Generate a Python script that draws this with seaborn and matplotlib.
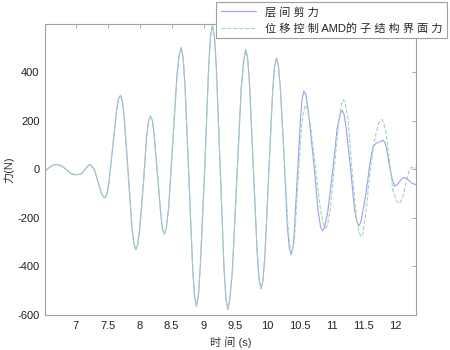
import numpy as np
import pandas as pd
import matplotlib
matplotlib.use("Agg")
import matplotlib.pyplot as plt
import seaborn as sns

# time (s) and force (N)
t_shear = [6.52, 6.56, 6.61, 6.65, 6.70, 6.78, 6.86, 6.93, 6.98, 7.06, 7.10, 7.145, 7.19, 7.23,
           7.29, 7.345, 7.40, 7.43, 7.46, 7.49, 7.52, 7.58, 7.64, 7.67, 7.70, 7.73, 7.76, 7.82,
           7.88, 7.91, 7.94, 7.97, 8.00, 8.06, 8.11, 8.14, 8.17, 8.20, 8.225, 8.28, 8.335, 8.36,
           8.39, 8.42, 8.455, 8.52, 8.585, 8.62, 8.65, 8.68, 8.71, 8.77, 8.83, 8.86, 8.89, 8.92,
           8.95, 9.02, 9.08, 9.11, 9.14, 9.17, 9.20, 9.26, 9.32, 9.35, 9.38, 9.41, 9.45, 9.52,
           9.59, 9.63, 9.66, 9.69, 9.72, 9.78, 9.84, 9.87, 9.90, 9.93, 9.96, 10.02, 10.08, 10.11,
           10.14, 10.17, 10.20, 10.26, 10.31, 10.34, 10.37, 10.40, 10.42, 10.47, 10.52, 10.54,
           10.57, 10.60, 10.64, 10.72, 10.79, 10.83, 10.86, 10.89, 10.94, 11.02, 11.09, 11.14,
           11.17, 11.20, 11.23, 11.30, 11.36, 11.40, 11.43, 11.46, 11.48, 11.54, 11.60, 11.65,
           11.70, 11.75, 11.78, 11.81, 11.84, 11.86, 11.91, 11.95, 11.99, 12.04, 12.09, 12.14,
           12.19, 12.25, 12.33]
f_shear = [-8, 2, 12, 18, 20, 14, -2, -18, -22, -21, -17, 0, 14, 20,
           0, -48, -97, -112, -117, -101, -55, 94, 243, 289, 305, 281, 212, -13,
           -238, -307, -331, -310, -251, -56, 139, 198, 219, 201, 148, -24, -196, -249,
           -267, -238, -155, 117, 389, 472, 501, 461, 346, -32, -409, -524, -564, -520,
           -395, 15, 424, 549, 593, 548, 422, 8, -407, -533, -578, -537, -422, -43,
           337, 452, 493, 456, 349, 0, -349, -456, -493, -457, -354, -18, 319, 422,
           458, 427, 340, 53, -234, -321, -352, -318, -253, -15, 224, 287,
           323, 308, 239, 36, -168, -237, -252, -241, -180, -6, 169, 230,
           243, 224, 172, 4, -164, -216, -233, -218, -190, -100, 20, 93,
           108, 112, 116, 120, 108, 90, 11, -40, -70, -60, -42, -33,
           -40, -56, -64]

t_amd = [6.52, 6.56, 6.61, 6.65, 6.70, 6.78, 6.86, 6.93, 6.98, 7.06, 7.10, 7.145, 7.19, 7.23,
         7.29, 7.345, 7.40, 7.43, 7.46, 7.49, 7.52, 7.58, 7.64, 7.67, 7.70, 7.73, 7.76, 7.82,
         7.88, 7.91, 7.94, 7.97, 8.00, 8.06, 8.11, 8.14, 8.17, 8.20, 8.225, 8.28, 8.335, 8.36,
         8.39, 8.42, 8.455, 8.52, 8.585, 8.62, 8.65, 8.68, 8.71, 8.77, 8.83, 8.86, 8.89, 8.92,
         8.95, 9.02, 9.08, 9.11, 9.14, 9.17, 9.20, 9.26, 9.32, 9.35, 9.38, 9.41, 9.45, 9.52,
         9.59, 9.63, 9.66, 9.69, 9.72, 9.78, 9.84, 9.87, 9.90, 9.93, 9.96, 10.02, 10.08, 10.11,
         10.14, 10.17, 10.20, 10.26, 10.32, 10.35, 10.38, 10.41, 10.43, 10.48, 10.53, 10.56,
         10.59, 10.62, 10.67, 10.75, 10.83, 10.88, 10.91, 10.94, 10.98, 11.05, 11.12, 11.16,
         11.19, 11.22, 11.26, 11.32, 11.39, 11.43, 11.46, 11.49, 11.53, 11.60, 11.66, 11.70,
         11.74, 11.76, 11.79, 11.82, 11.85, 11.91, 11.96, 12.01, 12.03, 12.06, 12.09, 12.11,
         12.16, 12.21, 12.25, 12.33]
f_amd = [-8, 2, 12, 18, 20, 14, -2, -18, -22, -21, -17, 0, 14, 20,
         0, -48, -97, -112, -117, -101, -55, 94, 243, 289, 305, 281, 212, -13,
         -238, -307, -331, -310, -251, -56, 139, 198, 219, 201, 148, -24, -196, -249,
         -267, -238, -155, 117, 389, 472, 501, 461, 346, -32, -409, -524, -564, -520,
         -395, 15, 424, 549, 593, 548, 422, 8, -407, -533, -578, -537, -422, -43,
         337, 452, 493, 456, 349, 0, -349, -456, -493, -457, -354, -18, 319, 422,
         458, 428, 341, 57, -228, -315, -345, -312, -256, -42, 173, 231,
         264, 253, 188, 7, -170, -231, -242, -229, -170, 20, 209, 274,
         287, 267, 205, 5, -195, -257, -277, -267, -200, -20, 100, 150,
         190, 198, 205, 190, 155, 33, -85, -125, -134, -140, -130, -118,
         -64, -10, 8, 5]

labels = ["层 间 剪 力", "位 移 控 制 AMD的 子 结 构 界 面 力"]
x_ticks = [7, 7.5, 8, 8.5, 9, 9.5, 10, 10.5, 11, 11.5, 12]
y_ticks = [-600, -400, -200, 0, 200, 400]

sns.set_style("white")
plt.rcParams['font.family'] = ['Liberation Sans', 'Noto Sans CJK SC']
plt.rcParams['axes.unicode_minus'] = False

fig = plt.figure(figsize=(4.5, 3.5), dpi=100)
ax = fig.add_axes([0.1, 0.1, 0.824, 0.831])

sns.lineplot(x=t_shear, y=f_shear, ax=ax, color='#9d9dff', lw=0.8, label=labels[0])
sns.lineplot(x=t_amd, y=f_amd, ax=ax, color='#a3d9a3', lw=0.8, linestyle='--',
             dashes=(4, 2), label=labels[1])

ax.set_xlim(6.52, 12.32)
ax.set_ylim(-600, 598)
ax.set_xticks(x_ticks)
ax.set_xticklabels([f"{v:g}" for v in x_ticks])
ax.set_yticks(y_ticks)
ax.tick_params(direction='in', length=3, width=0.6, colors='#999999',
               labelcolor='#222222', labelsize=8, top=True, right=True, pad=4)
for s in ax.spines.values():
    s.set_color('#a0a0a0')
    s.set_linewidth(0.8)

ax.set_xlabel("时 间 (s)", fontsize=8, color='#333333', labelpad=4)
ax.set_ylabel("力(N)", fontsize=8, color='#333333', labelpad=2)

leg = ax.legend(loc='upper right', bbox_to_anchor=(1.084, 1.076), borderaxespad=0,
                fontsize=8, handlelength=3.2, frameon=True, fancybox=False,
                framealpha=1, edgecolor='#a0a0a0', borderpad=0.4, labelspacing=0.5)
leg.get_frame().set_linewidth(0.8)

fig.savefig("out.png", dpi=100)
